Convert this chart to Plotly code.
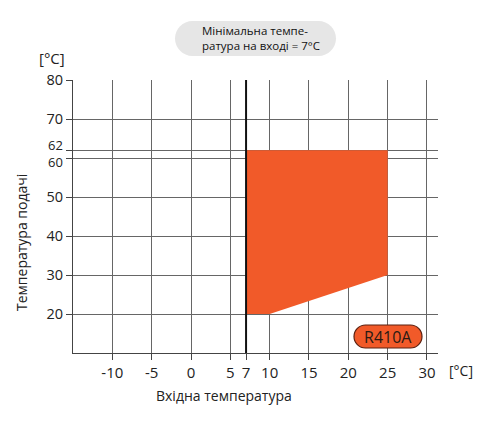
import plotly.graph_objects as go

# Data
x_ticks = [-10, -5, 0, 5, 7, 10, 15, 20, 25, 30]
y_ticks = [20, 30, 40, 50, 60, 62, 70, 80]
area_x = [7, 10, 25, 25, 7]
area_y = [20, 20, 30, 62, 62]
min_inlet = 7
refrigerant = "R410A"

# Plot geometry (pixels)
W, H = 486, 426
L, R, T, B = 73, 438, 80, 353
PW, PH = R - L, B - T
FONT = "Open Sans"


def pp(x, y):
    return (x - L) / PW, (B - y) / PH


def capsule(x0, y0, x1, y1):
    r = (y1 - y0) / 2
    k = 0.5523 * r
    def P(x, y):
        a, b = pp(x, y)
        return f"{a:.5f},{b:.5f}"
    d = f"M {P(x0 + r, y0)} L {P(x1 - r, y0)} "
    d += f"C {P(x1 - r + k, y0)} {P(x1, y0 + r - k)} {P(x1, y0 + r)} "
    d += f"C {P(x1, y0 + r + k)} {P(x1 - r + k, y1)} {P(x1 - r, y1)} "
    d += f"L {P(x0 + r, y1)} "
    d += f"C {P(x0 + r - k, y1)} {P(x0, y0 + r + k)} {P(x0, y0 + r)} "
    d += f"C {P(x0, y0 + r - k)} {P(x0 + r - k, y0)} {P(x0 + r, y0)} Z"
    return d


fig = go.Figure()
fig.add_trace(go.Scatter(x=area_x, y=area_y, fill="toself", mode="lines",
                         line=dict(width=0, color="#F15A29"),
                         fillcolor="#F15A29", hoverinfo="skip", showlegend=False))

fig.add_shape(type="line", x0=min_inlet, x1=min_inlet, y0=0, y1=1,
              xref="x", yref="paper", line=dict(color="#111111", width=2))

# Title capsule
fig.add_shape(type="path", path=capsule(175, 21, 336, 56), xref="paper", yref="paper",
              fillcolor="#E6E6E6", line=dict(width=0), layer="below")
ax, ay = pp(200, 38)
fig.add_annotation(x=ax, y=ay, xref="paper", yref="paper", xanchor="left", yanchor="middle",
                   text="Мінімальна темпе-<br>ратура на вході = 7°C", showarrow=False, align="left",
                   font=dict(family=FONT, size=11.5, color="#111111"))

# R410A capsule
fig.add_shape(type="path", path=capsule(354, 325, 422, 348), xref="paper", yref="paper",
              fillcolor="#F15A29", line=dict(width=1.2, color="#5a2010"))
ax, ay = pp(388, 336.5)
fig.add_annotation(x=ax, y=ay, xref="paper", yref="paper", xanchor="center", yanchor="middle",
                   text=refrigerant, showarrow=False,
                   font=dict(family=FONT, size=16, color="#2a1a14"))

# Unit labels
ax, ay = pp(52, 58)
fig.add_annotation(x=ax, y=ay, xref="paper", yref="paper", xanchor="center", yanchor="middle",
                   text="[°C]", showarrow=False, font=dict(family=FONT, size=15, color="#222222"))
ax, ay = pp(461, 370)
fig.add_annotation(x=ax, y=ay, xref="paper", yref="paper", xanchor="center", yanchor="middle",
                   text="[°C]", showarrow=False, font=dict(family=FONT, size=14, color="#222222"))

# Axis titles
ax, ay = pp(224, 396)
fig.add_annotation(x=ax, y=ay, xref="paper", yref="paper", xanchor="center", yanchor="middle",
                   text="Вхідна температура", showarrow=False,
                   font=dict(family=FONT, size=14, color="#222222"))
ax, ay = pp(21, 243)
fig.add_annotation(x=ax, y=ay, xref="paper", yref="paper", xanchor="center", yanchor="middle",
                   text="Температура подачі", showarrow=False, textangle=-90,
                   font=dict(family=FONT, size=14, color="#222222"))

# Close-together y labels (62 / 60) placed as annotations with small offsets
close_labels = {62: 5, 60: -4}
lx = pp(64, 0)[0]
for v, shift in close_labels.items():
    fig.add_annotation(x=lx, y=v, xref="paper", yref="y", xanchor="right", yanchor="middle",
                       text=str(v), showarrow=False, yshift=shift, borderpad=0,
                       font=dict(family=FONT, size=13, color="#222222"))

grid = "#666666"
fig.update_xaxes(range=[-15, 31.4], tickvals=x_ticks, ticktext=[str(v) for v in x_ticks],
                 showgrid=True, gridcolor=grid, gridwidth=1, zeroline=False,
                 showline=True, linecolor="#444444", linewidth=1,
                 ticks="outside", ticklen=6, tickcolor="#444444", tickangle=0,
                 tickfont=dict(family=FONT, size=15, color="#222222"), fixedrange=True)
fig.update_yaxes(range=[10, 80], tickvals=y_ticks,
                 ticktext=["" if v in close_labels else str(v) for v in y_ticks],
                 showgrid=True, gridcolor=grid, gridwidth=1, zeroline=False,
                 showline=True, linecolor="#444444", linewidth=1,
                 ticks="outside", ticklen=6, tickcolor="#444444",
                 tickfont=dict(family=FONT, size=14.5, color="#222222"), fixedrange=True)

fig.update_layout(width=W, height=H, margin=dict(l=L, r=W - R, t=T, b=H - B),
                  plot_bgcolor="white", paper_bgcolor="white", showlegend=False)

fig.write_html("out.html", config={"displayModeBar": False},
               post_script="document.body.style.margin='0px';document.body.style.overflow='hidden';")
